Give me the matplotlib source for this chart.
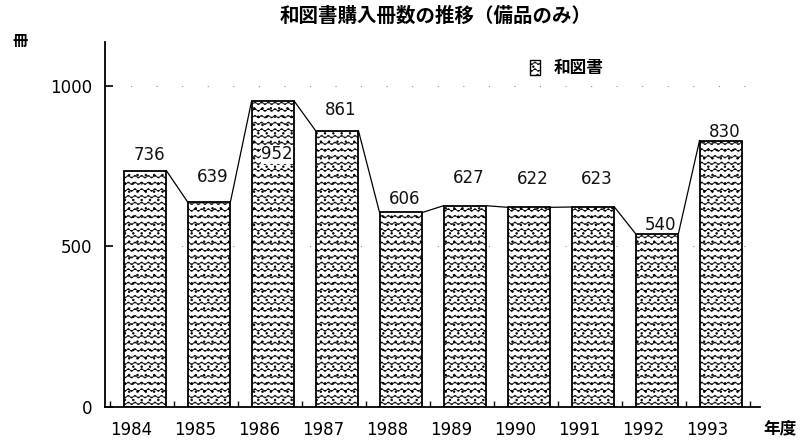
import warnings
import numpy as np
import matplotlib
matplotlib.use("Agg")
import matplotlib.pyplot as plt
import matplotlib.hatch as mhatch
from matplotlib.path import Path
from matplotlib.patches import Patch

warnings.filterwarnings("ignore")

years = ["1984", "1985", "1986", "1987", "1988", "1989", "1990", "1991", "1992", "1993"]
books = [736, 639, 952, 861, 606, 627, 622, 623, 540, 830]
yticks = [0, 500, 1000]
title = "和図書購入冊数の推移（備品のみ）"
series_name = "和図書"

# label offsets above bar top, in pixels (as in the scanned original)
label_dy = [16, 25, -53, 21, 13, 28, 28, 28, 9, 9]

cjk = ["Noto Sans CJK JP", "DejaVu Sans"]


class WaveHatch(mhatch.HatchPatternBase):
    """wavy lines, used for the 'w' hatch character"""

    def __init__(self, hatch, density):
        self.num_rows = hatch.count("w") * density * 5 // 2
        self.pts = self.num_rows * 8 + 1
        self.num_vertices = self.num_rows * self.pts

    def set_vertices_and_codes(self, vertices, codes):
        t = np.linspace(0, 1, self.pts)
        for r in range(self.num_rows):
            y0 = (r + 0.5) / self.num_rows
            y = y0 + 0.014 * np.sin(2 * np.pi * self.num_rows * t)
            sl = slice(r * self.pts, (r + 1) * self.pts)
            vertices[sl, 0] = t
            vertices[sl, 1] = y
            codes[sl] = Path.LINETO
            codes[r * self.pts] = Path.MOVETO


mhatch._hatch_types.append(WaveHatch)
plt.rcParams["hatch.linewidth"] = 0.5

fig = plt.figure(figsize=(8.01, 4.43), dpi=100)
ax = fig.add_axes([105 / 801, 36 / 443, 655 / 801, 365 / 443])

x = np.arange(len(years))
w = 0.67
ax.bar(x, books, width=w, color="white", edgecolor="black", linewidth=1.3,
       hatch="w..", zorder=2)

# connector lines between bar tops
for i in range(len(books) - 1):
    ax.plot([x[i] + w / 2, x[i + 1] - w / 2], [books[i], books[i + 1]],
            color="black", lw=0.9, zorder=3)

for i, v in enumerate(books):
    kw = {}
    if label_dy[i] < 0:
        kw["bbox"] = dict(facecolor="white", edgecolor="none", pad=0.5)
    ax.annotate(str(v), (x[i], v), xytext=(4, label_dy[i]), textcoords="offset pixels",
                ha="center", va="center", fontsize=12, color="#111111", zorder=4, **kw)

ax.set_xlim(-0.625, 9.61)
ax.set_ylim(0, 1137)

ax.set_yticks(yticks)
ax.set_yticklabels([str(t) for t in yticks])
ax.tick_params(axis="y", direction="in", length=6, width=1.2, labelsize=12, pad=9)

ax.set_xticks(x - 0.22)
ax.set_xticklabels(years)
ax.set_xticks(np.arange(len(years) + 1) - 0.55, minor=True)
ax.tick_params(axis="x", which="major", length=0, labelsize=12, pad=10)
ax.tick_params(axis="x", which="minor", direction="in", length=4.5, width=1.0)

ax.yaxis.grid(True, linestyle=(0, (1, 22)), color="0.55", lw=0.8)
ax.set_axisbelow(True)

for s in ["top", "right"]:
    ax.spines[s].set_visible(False)
for s in ["left", "bottom"]:
    ax.spines[s].set_linewidth(1.3)

fig.text(436 / 801, 1 - 16 / 443, title, ha="center", va="center",
         fontsize=14, fontweight="bold", family=cjk)
fig.text(20 / 801, 1 - 41 / 443, "冊", ha="center", va="center",
         fontsize=11, fontweight="bold", family=cjk)
fig.text(780 / 801, 1 - 428 / 443, "年度", ha="center", va="center",
         fontsize=12, fontweight="bold", family=cjk)

handle = Patch(facecolor="white", edgecolor="black", hatch="w..", linewidth=1.0)
fig.legend([handle], [series_name], loc="center left",
           bbox_to_anchor=(530 / 801, 1 - 68 / 443), frameon=False,
           handlelength=0.6, handleheight=1.0, handletextpad=0.8,
           borderpad=0, borderaxespad=0,
           prop=dict(family=cjk, size=12, weight="bold"))

fig.savefig("out.png", dpi=100)
